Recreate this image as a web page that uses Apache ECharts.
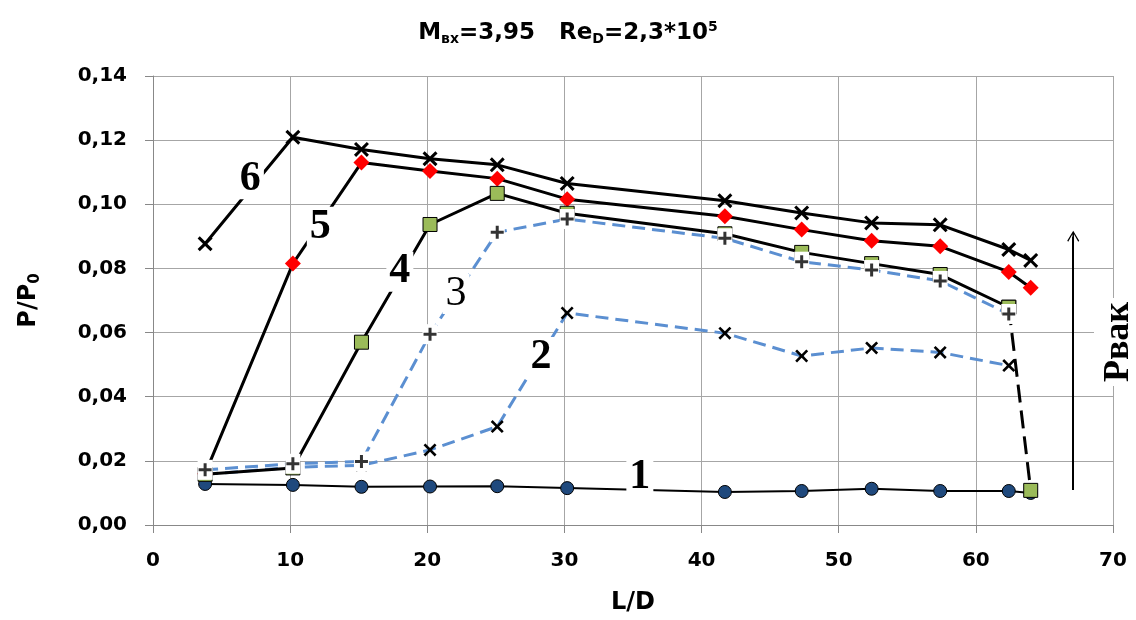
<!DOCTYPE html>
<html><head><meta charset="utf-8">
<script src="https://cdn.jsdelivr.net/npm/echarts@6/dist/echarts.min.js"></script>
<style>html,body{margin:0;padding:0;background:#fff}#c{width:1136px;height:620px}</style>
</head><body><div id="c"></div>
<script>
// L/D positions of the measurement points
const ld = [3.8, 10.2, 15.2, 20.2, 25.1, 30.2, 41.7, 47.3, 52.4, 57.4, 62.4, 64.0];
// P/P0 values per curve
const curve1 = [0.0128, 0.0125, 0.0119, 0.0120, 0.0121, 0.0115, 0.0103, 0.0106, 0.0113, 0.0106, 0.0106, 0.0100];
const curve2 = [0.0158, 0.0180, 0.0186, 0.0234, 0.0307, 0.0661, 0.0598, 0.0527, 0.0552, 0.0538, 0.0497];
const curve3 = [0.0172, 0.0191, 0.0198, 0.0595, 0.0913, 0.0954, 0.0894, 0.0821, 0.0795, 0.0761, 0.0658];
const curve4 = [0.0158, 0.0178, 0.0570, 0.0937, 0.1034, 0.0972, 0.0908, 0.0850, 0.0815, 0.0781, 0.0679, 0.0108];
const curve5 = [0.0160, 0.0815, 0.1130, 0.1104, 0.1080, 0.1016, 0.0963, 0.0921, 0.0886, 0.0869, 0.0789, 0.0740];
const curve6 = [0.0877, 0.1209, 0.1171, 0.1142, 0.1123, 0.1065, 0.1011, 0.0973, 0.0942, 0.0936, 0.0859, 0.0825];
// curve number labels (data coordinates)
const labelText = ['1', '2', '3', '4', '5', '6'];
const labelX = [35.5, 28.3, 22.1, 18.0, 12.2, 7.1];
const labelY = [0.0150, 0.0524, 0.0720, 0.0790, 0.0930, 0.1078];
const labelBold = [true, true, false, true, true, true];
// vacuum arrow (data coordinates)
const arrowX = 67.1;
const arrowFrom = 0.0109;
const arrowTo = 0.0899;
const sideLabel = 'Pвак';

const pts = (ys) => ys.map((y, i) => [ld[i], y]);
const XPATH = 'path://M0,2 L2,0 L7,5 L12,0 L14,2 L9,7 L14,12 L12,14 L7,9 L2,14 L0,12 L5,7 Z';
const PLUS = 'path://M5,0 H8 V5 H13 V8 H8 V13 H5 V8 H0 V5 H5 Z';
const ARROW = 'path://M6,0 L12,10 L11,11 L6.8,3.5 L6.8,12 L5.2,12 L5.2,3.5 L1,11 L0,10 Z';
const BLUE = '#5b8fd1';
const TICKFONT = {fontFamily: 'DejaVu Sans', fontWeight: 'bold', fontSize: 20, color: '#000'};

const c4 = pts(curve4);
const series = [
  {name: '1', type: 'line', data: pts(curve1), symbol: 'circle', symbolSize: 13,
   lineStyle: {color: '#000', width: 2}, itemStyle: {color: '#1f497d', borderColor: '#000', borderWidth: 1}},
  {name: '2', type: 'line', data: pts(curve2), symbol: XPATH, symbolSize: 13,
   lineStyle: {color: BLUE, width: 3, type: [13, 7]}, itemStyle: {color: '#000'}},
  {name: '6', type: 'line', data: pts(curve6), symbol: XPATH, symbolSize: 15,
   lineStyle: {color: '#000', width: 3}, itemStyle: {color: '#000'}},
  {name: '5', type: 'line', data: pts(curve5), symbol: 'diamond', symbolSize: 16,
   lineStyle: {color: '#000', width: 3}, itemStyle: {color: '#ff0000'}},
  {name: '4', type: 'line', data: c4.slice(0, c4.length - 1), symbol: 'rect', symbolSize: 14,
   lineStyle: {color: '#000', width: 3}, itemStyle: {color: '#9bbb59', borderColor: '#000', borderWidth: 1}},
  {name: '4t', type: 'line', data: c4.slice(c4.length - 2), symbol: 'rect', symbolSize: 14,
   lineStyle: {color: '#000', width: 3, type: [18, 8]}, itemStyle: {color: '#9bbb59', borderColor: '#000', borderWidth: 1}},
  {name: '3', type: 'line', data: pts(curve3), symbol: 'rect', symbolSize: [15, 20],
   lineStyle: {color: BLUE, width: 3, type: [13, 7]}, itemStyle: {color: '#fff', borderWidth: 0}},
  {name: '3m', type: 'scatter', z: 4, data: pts(curve3), symbol: PLUS, symbolSize: 13, itemStyle: {color: '#000'}},
  {name: 'labels', type: 'scatter', z: 10, symbolSize: 0, itemStyle: {color: '#fff', opacity: 1},
   data: labelText.map((t, i) => ({value: [labelX[i], labelY[i]],
     label: {formatter: t, fontWeight: labelBold[i] ? 'bold' : 'normal'}})),
   label: {show: true, position: 'inside', fontFamily: 'Liberation Serif', fontSize: 42, lineHeight: 40,
     color: '#000', opacity: 1, textBorderWidth: 0, textBorderColor: 'transparent',
     backgroundColor: '#fff', padding: [0, 3]},
   emphasis: {disabled: true},
   markLine: {silent: true, symbol: ['none', ARROW], symbolSize: [12, 12],
     lineStyle: {color: '#000', width: 2, type: 'solid'}, label: {show: false},
     data: [[{coord: [arrowX, arrowFrom]}, {coord: [arrowX, arrowTo]}]]}}
];

const chart = echarts.init(document.getElementById('c'), null, {renderer: 'canvas'});
chart.setOption({
  animation: false,
  backgroundColor: '#fff',
  title: {
    text: '{m|M}{s|вх}{m|=3,95   Re}{s|D}{m|=2,3*10}{p|5}',
    left: 'center', top: 15,
    textStyle: {rich: {
      m: {fontFamily: 'DejaVu Sans', fontWeight: 'bold', fontSize: 23, lineHeight: 26, color: '#000', verticalAlign: 'middle'},
      s: {fontFamily: 'DejaVu Sans', fontWeight: 'bold', fontSize: 14, lineHeight: 14, color: '#000', verticalAlign: 'bottom'},
      p: {fontFamily: 'DejaVu Sans', fontWeight: 'bold', fontSize: 14, lineHeight: 14, color: '#000', verticalAlign: 'top'}
    }}
  },
  grid: {left: 153, right: 23, top: 76, bottom: 92},
  xAxis: {
    type: 'value', min: 0, max: 70, interval: 10,
    name: 'L/D', nameLocation: 'middle', nameGap: 66,
    nameTextStyle: {fontFamily: 'DejaVu Sans', fontWeight: 'bold', fontSize: 24, color: '#000'},
    axisLine: {show: true, lineStyle: {color: '#888'}},
    axisTick: {show: true, length: 8, lineStyle: {color: '#888'}},
    axisLabel: Object.assign({margin: 26}, TICKFONT),
    splitLine: {show: true, lineStyle: {color: '#a6a6a6', width: 1}}
  },
  yAxis: {
    type: 'value', min: 0, max: 0.14, interval: 0.02,
    name: '{b|P/P}{s|0}', nameLocation: 'middle', nameGap: 110,
    nameTextStyle: {rich: {
      b: {fontFamily: 'DejaVu Sans', fontWeight: 'bold', fontSize: 24, lineHeight: 28, color: '#000', verticalAlign: 'middle'},
      s: {fontFamily: 'DejaVu Sans', fontWeight: 'bold', fontSize: 15, lineHeight: 15, color: '#000', verticalAlign: 'bottom'}
    }},
    axisLine: {show: true, lineStyle: {color: '#888'}},
    axisTick: {show: true, length: 8, lineStyle: {color: '#888'}},
    axisLabel: Object.assign({margin: 26, formatter: v => v.toFixed(2).replace('.', ',')}, TICKFONT),
    splitLine: {show: true, lineStyle: {color: '#a6a6a6', width: 1}}
  },
  graphic: [{
    type: 'text', x: 1119, y: 342, rotation: Math.PI / 2, z: 20,
    style: {text: sideLabel, fontFamily: 'Liberation Serif', fontWeight: 'bold', fontSize: 36,
      lineHeight: 50, fill: '#000', align: 'center', verticalAlign: 'middle',
      backgroundColor: '#fff', padding: [0, 4]}
  }],
  series: series
});
</script></body></html>
